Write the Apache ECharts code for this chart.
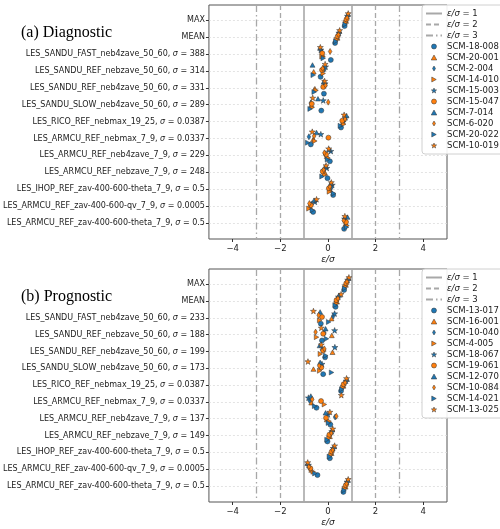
<!DOCTYPE html>
<html>
<head>
<meta charset="utf-8">
<script src="https://cdn.jsdelivr.net/npm/echarts@6/dist/echarts.min.js"></script>
<style>
html, body { margin: 0; padding: 0; background: #fff; }
#chartmain { width: 500px; height: 529px; }
</style>
</head>
<body>
<div id="chartmain"></div>
<script>
// rows of both panels (top to bottom)
var rowNames = ['MAX', 'MEAN',
    'LES_SANDU_FAST_neb4zave_50_60', 'LES_SANDU_REF_nebzave_50_60',
    'LES_SANDU_REF_neb4zave_50_60', 'LES_SANDU_SLOW_neb4zave_50_60',
    'LES_RICO_REF_nebmax_19_25', 'LES_ARMCU_REF_nebmax_7_9',
    'LES_ARMCU_REF_neb4zave_7_9', 'LES_ARMCU_REF_nebzave_7_9',
    'LES_IHOP_REF_zav-400-600-theta_7_9', 'LES_ARMCU_REF_zav-400-600-qv_7_9',
    'LES_ARMCU_REF_zav-400-600-theta_7_9'];
var sigmaA = ['', '', '388', '314', '331', '289', '0.0387', '0.0337', '229', '248', '0.5', '0.0005', '0.5'];
var sigmaB = ['', '', '233', '188', '199', '173', '0.0387', '0.0337', '137', '149', '0.5', '0.0005', '0.5'];

var modelsA = ['SCM-18-008', 'SCM-20-001', 'SCM-2-004', 'SCM-14-010', 'SCM-15-003',
    'SCM-15-047', 'SCM-7-014', 'SCM-6-020', 'SCM-20-022', 'SCM-10-019'];
var modelsB = ['SCM-13-017', 'SCM-16-001', 'SCM-10-040', 'SCM-4-005', 'SCM-18-067',
    'SCM-19-061', 'SCM-12-070', 'SCM-10-084', 'SCM-14-021', 'SCM-13-025'];

// small vertical shift of each simulation inside a row
var yOffsets = [0.35, 0.05, -0.1, 0.15, -0.25, -0.05, -0.35, -0.15, 0.25, -0.4];

// error / sigma, one array per simulation, 13 rows each
var valuesA = [
    [0.70, 0.30, 0.12, -0.31, -0.17, -0.28, 0.55, -0.72, 0.08, -0.02, 0.22, -0.62, 0.68],
    [0.76, 0.40, -0.22, -0.60, -0.55, -0.70, 0.62, -0.62, -0.05, -0.12, 0.10, -0.75, 0.74],
    [0.79, 0.42, -0.27, -0.14, -0.15, -0.72, 0.70, -0.80, -0.12, -0.20, 0.15, -0.70, 0.72],
    [0.74, 0.36, -0.25, -0.20, -0.50, -0.66, 0.66, -0.55, 0.00, -0.15, 0.06, -0.80, 0.80],
    [0.82, 0.46, -0.30, -0.10, -0.12, -0.20, 0.74, -0.30, 0.12, -0.05, 0.18, -0.55, 0.70],
    [0.78, 0.41, -0.24, -0.25, -0.20, -0.68, 0.60, 0.02, -0.08, -0.22, 0.04, -0.72, 0.76],
    [0.84, 0.48, -0.33, -0.65, -0.18, -0.42, 0.78, -0.48, 0.05, -0.10, 0.12, -0.58, 0.82],
    [0.80, 0.44, 0.09, -0.22, -0.10, 0.01, 0.72, -0.58, -0.15, -0.18, 0.08, -0.78, 0.66],
    [0.72, 0.33, -0.20, -0.62, -0.58, -0.75, 0.52, -0.85, -0.02, -0.25, 0.24, -0.66, 0.78],
    [0.85, 0.49, -0.32, -0.12, -0.14, -0.64, 0.68, -0.66, 0.03, -0.08, 0.14, -0.48, 0.71]
];
var valuesB = [
    [0.68, 0.32, -0.30, -0.25, -0.12, -0.20, 0.55, -0.48, 0.10, -0.02, 0.08, -0.44, 0.65],
    [0.75, 0.38, 0.15, 0.16, 0.19, -0.61, 0.65, -0.70, -0.05, 0.08, 0.15, -0.70, 0.74],
    [0.78, 0.40, 0.22, -0.15, -0.25, -0.30, 0.70, -0.78, 0.30, 0.12, 0.18, -0.78, 0.76],
    [0.72, 0.35, -0.35, -0.48, -0.32, -0.35, 0.62, -0.15, 0.05, 0.04, 0.12, -0.62, 0.70],
    [0.83, 0.44, 0.28, 0.28, 0.29, -0.25, 0.76, -0.82, 0.00, 0.16, 0.22, -0.82, 0.80],
    [0.77, 0.36, -0.25, -0.20, -0.20, -0.28, 0.66, -0.29, -0.08, 0.06, 0.16, -0.74, 0.75],
    [0.86, 0.47, -0.33, -0.10, -0.35, -0.33, 0.80, -0.72, -0.10, 0.18, 0.26, -0.86, 0.84],
    [0.80, 0.42, -0.39, -0.52, -0.15, -0.37, 0.72, -0.66, 0.35, 0.14, 0.20, -0.80, 0.78],
    [0.70, 0.30, 0.03, -0.06, -0.09, 0.15, 0.58, -0.56, 0.02, -0.04, 0.06, -0.55, 0.68],
    [0.88, 0.55, -0.61, -0.28, -0.28, -0.84, 0.78, 0.56, 0.08, 0.20, 0.28, -0.85, 0.85]
];
var ratioLevels = [1, 2, 3];
var xTicks = [-4, -2, 0, 2, 4];

var rowTicks = rowNames.map(function (n, i) { return i; });

var blue = '#1f77b4', orange = '#ff7f0e';
var colors = [blue, orange, blue, orange, blue, orange, blue, orange, blue, orange];
var circlePath = 'path://M5,0A5,5,0,1,1,4.99,0Z';
var triUp = 'path://M5,0L10,9L0,9Z';
var starPath = 'path://M10,0L12.35,6.76L19.51,6.91L13.8,11.24L15.88,18.09L10,14L4.12,18.09L6.2,11.24L0.49,6.91L7.65,6.76Z';
var thinDiamond = 'path://M3,0L6,5L3,10L0,5Z';
var triRight = 'path://M0,0L9,5L0,10Z';
var shapes = [circlePath, triUp, thinDiamond, triRight, starPath,
    circlePath, triUp, thinDiamond, triRight, starPath];
var sizes = [5, 5, 6, 5, 6, 5, 5, 6, 5, 6];

var lineStyles = [
    { color: '#a8a8a8', width: 1.6, type: 'solid' },
    { color: '#a8a8a8', width: 1.3, type: [5, 3] },
    { color: '#a8a8a8', width: 1.3, type: [7, 3, 1.5, 3] }
];

function ratioName(k) { return 'ε/σ = ' + ratioLevels[k]; }

function rowLabel(sigma) {
    return function (v) {
        var i = Math.round(v);
        if (sigma[i] === '') return rowNames[i];
        return rowNames[i] + ', {i|σ} = ' + sigma[i];
    };
}

var series = [];
function addPanel(idx, models, values) {
    for (var k = 0; k < ratioLevels.length; k++) {
        series.push({
            type: 'line', name: ratioName(k),
            xAxisIndex: idx, yAxisIndex: idx,
            data: [], symbol: 'none', silent: true,
            lineStyle: lineStyles[k],
            itemStyle: { color: lineStyles[k].color },
            markLine: {
                silent: true, symbol: 'none',
                label: { show: false },
                lineStyle: lineStyles[k],
                data: [{ xAxis: -ratioLevels[k] }, { xAxis: ratioLevels[k] }]
            },
            z: 2
        });
    }
    for (var m = 0; m < models.length; m++) {
        var pts = [];
        for (var r = 0; r < values[m].length; r++) {
            pts.push([values[m][r], r + yOffsets[m]]);
        }
        series.push({
            type: 'scatter', name: models[m],
            xAxisIndex: idx, yAxisIndex: idx,
            symbol: shapes[m], symbolSize: sizes[m], symbolKeepAspect: true,
            itemStyle: { color: colors[m], borderColor: '#333', borderWidth: 0.5, opacity: 1 },
            data: pts, z: 5
        });
    }
}
addPanel(0, modelsA, valuesA);
addPanel(1, modelsB, valuesB);

function makeXAxis(idx) {
    return {
        type: 'value', gridIndex: idx, min: -5, max: 5,
        name: '{i|ε/σ}', nameLocation: 'middle', nameGap: 16,
        nameTextStyle: { fontSize: 9, color: '#222', rich: { i: { fontStyle: 'italic', fontSize: 9, color: '#222' } } },
        axisLine: { show: false, onZero: false },
        axisTick: { show: true, length: 3, customValues: xTicks, lineStyle: { color: '#333' } },
        axisLabel: {
            customValues: xTicks, fontSize: 8.5, color: '#222', margin: 5,
            formatter: function (v) { return v < 0 ? '\u2212' + (-v) : '' + v; }
        },
        splitLine: { show: false }
    };
}
function makeYAxis(idx, sigma) {
    return {
        type: 'value', gridIndex: idx, inverse: true, min: -0.9, max: 12.95,
        axisLine: { show: false, onZero: false },
        axisTick: { show: true, length: 3, customValues: rowTicks, lineStyle: { color: '#333' } },
        axisLabel: {
            customValues: rowTicks, fontSize: 8, color: '#222', margin: 4,
            formatter: rowLabel(sigma),
            rich: { i: { fontStyle: 'italic', fontSize: 8, color: '#222' } }
        },
        splitLine: { show: true, lineStyle: { color: '#dcdcdc', type: [2, 2], width: 0.8 } }
    };
}
function makeLegend(top, models) {
    var names = [];
    for (var k = 0; k < ratioLevels.length; k++) {
        names.push({ name: ratioName(k), itemStyle: { opacity: 0 } });
    }
    for (var m = 0; m < models.length; m++) {
        names.push({ name: models[m], icon: shapes[m] });
    }
    return {
        orient: 'vertical', left: 422, top: top,
        data: names,
        itemWidth: 16, itemHeight: 5, itemGap: 0,
        padding: [3, 6, 3, 3],
        backgroundColor: 'rgba(255,255,255,0.9)',
        borderColor: '#d0d0d0', borderWidth: 1, borderRadius: 3,
        selectedMode: false,
        itemStyle: { borderWidth: 0.5, borderColor: '#333' },
        textStyle: { fontSize: 8.5, color: '#222', lineHeight: 11,
            rich: { i: { fontStyle: 'italic', fontSize: 8.5, color: '#222', lineHeight: 11 } } },
        formatter: function (n) {
            if (n.indexOf('ε/σ') === 0) return '{i|ε/σ} = ' + n.slice(-1);
            return n;
        }
    };
}

var option = {
    animation: false,
    backgroundColor: '#fff',
    title: [
        { text: '(a) Diagnostic', left: 16, top: 20,
          textStyle: { fontFamily: 'Liberation Serif', fontSize: 16, fontWeight: 'normal', color: '#000' } },
        { text: '(b) Prognostic', left: 16, top: 284,
          textStyle: { fontFamily: 'Liberation Serif', fontSize: 16, fontWeight: 'normal', color: '#000' } }
    ],
    textStyle: { fontFamily: 'DejaVu Sans' },
    grid: [
        { left: 197, top: 5, width: 250, height: 234, show: true, borderColor: '#555', borderWidth: 1, backgroundColor: 'transparent' },
        { left: 197, top: 269, width: 250, height: 233, show: true, borderColor: '#555', borderWidth: 1, backgroundColor: 'transparent' }
    ],
    xAxis: [makeXAxis(0), makeXAxis(1)],
    yAxis: [makeYAxis(0, sigmaA), makeYAxis(1, sigmaB)],
    legend: [makeLegend(5, modelsA), makeLegend(269, modelsB)],
    series: series
};

var myChart = echarts.init(document.getElementById('chartmain'), null, { renderer: 'canvas' });
myChart.setOption(option);
</script>
</body>
</html>
